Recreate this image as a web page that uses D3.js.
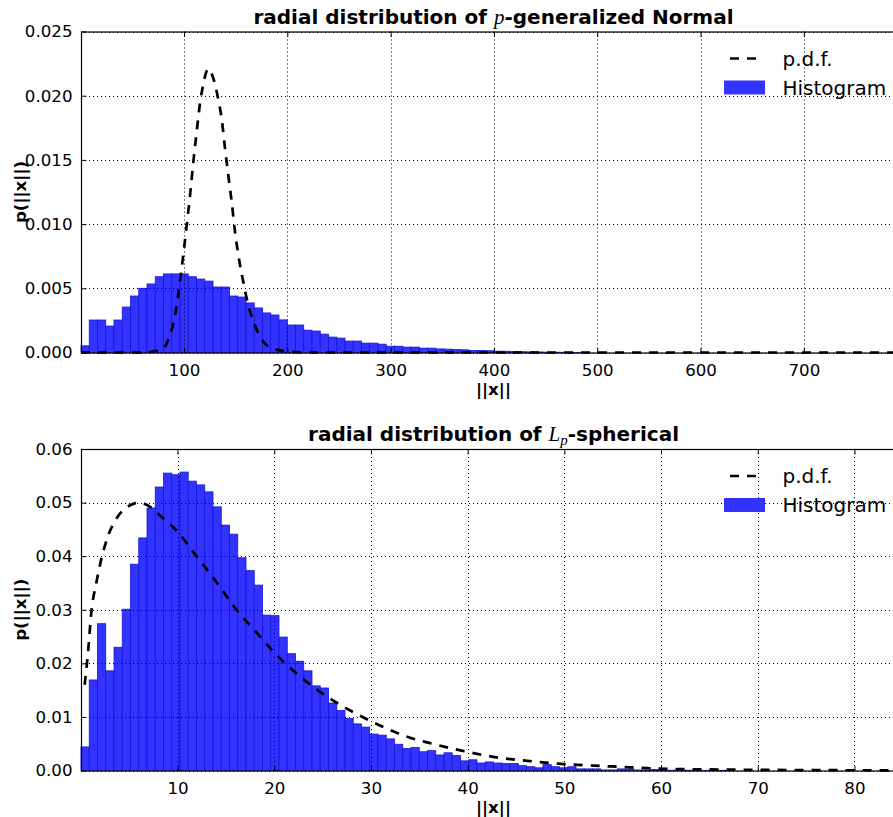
<!DOCTYPE html>
<html><head><meta charset="utf-8">
<script src="https://cdn.jsdelivr.net/npm/d3@7"></script>
<style>
body{margin:0;background:#fff}
svg{display:block}
text{font-family:"DejaVu Sans",sans-serif;fill:#000}
</style>
</head><body>
<svg id="c" width="893" height="817"></svg>
<script>
// ---------- data: top panel (p-generalized Normal) ----------
const topHistRange = [0.3, 798.9];
const topHist = [0.00052,0.00253,0.00253,0.00206,0.00253,0.00354,0.00440,0.00500,0.00534,0.00590,
0.00612,0.00612,0.00612,0.00590,0.00572,0.00556,0.00510,0.00510,0.00440,0.00432,
0.00386,0.00347,0.00308,0.00292,0.00254,0.00214,0.00214,0.00174,0.00167,0.00143,
0.00120,0.00112,0.00089,0.00089,0.00073,0.00073,0.00065,0.00049,0.00049,0.00042,
0.00042,0.00034,0.00034,0.00028,0.00026,0.00023,0.00021,0.00016,0.00016,0.00014,
0.00010,0.00010,0.00007,0.00006,0.00005,0.00004,0.00003,0.00002,0.00002,0.00001,
0.00001,0,0,0,0,0,0,0,0,0, 0,0,0,0,0,0,0,0,0,0, 0,0,0,0,0,0,0,0,0,0, 0,0,0,0,0,0,0,0,0,0];
const topPdfX = [0.3,40,65,70.3,78.4,84.8,91.3,96.1,99.3,102.6,105.8,109,112.3,115.5,118.7,121,123.5,126.8,130,133.2,136.5,139.7,142.9,146.2,149.4,152.6,157.4,162.2,168.7,176.8,186.4,199.4,220,798.9];
const topPdfY = [0,0,0,0.0001,0.0002,0.001,0.0029,0.0055,0.0076,0.0099,0.0122,0.0148,0.0172,0.0194,0.0209,0.0217,0.0221,0.0217,0.0209,0.0197,0.0182,0.0159,0.0138,0.0117,0.0094,0.0076,0.0055,0.0037,0.0021,0.00085,0.0003,0.0001,0,0];
const topXTicks = [100,200,300,400,500,600,700];
const topYTicks = [0,0.005,0.010,0.015,0.020,0.025];
const topYMax = 0.025;

// ---------- data: bottom panel (Lp-spherical) ----------
const botHistRange = [0.02, 85.33];
const botHist = [0.0044,0.0169,0.0274,0.0186,0.0230,0.0301,0.0385,0.0434,0.0490,0.0529,
0.0555,0.0552,0.0557,0.0540,0.0533,0.0520,0.0492,0.0458,0.0441,0.0397,
0.0373,0.0346,0.0290,0.0289,0.0249,0.0218,0.0204,0.0186,0.0158,0.0154,
0.0126,0.0112,0.0097,0.0087,0.0081,0.0068,0.0066,0.0059,0.0049,0.0041,
0.0043,0.0035,0.0037,0.0029,0.0033,0.0028,0.0018,0.0020,0.0014,0.0016,
0.0014,0.0013,0.0013,0.0009,0.0007,0.0005,0.0011,0.0007,0.0005,0.0007,
0.0003,0.0003,0.0003,0.0001,0.0001,0.0003,0.0003,0.0001,0.0001,0.0002,
0.0001,0.00005,0.0001,0.00005,0.00005,0.00003,0.00005,0.00003,0.00003,0,
0,0,0,0,0,0,0,0,0,0, 0,0,0,0,0,0,0,0,0,0];
const botPdfX = [0.4,0.74,1.08,1.6,2.1,2.8,3.83,5.2,5.9,7.1,8.3,10,11.7,14.1,16.0,18.2,19.8,23.6,26.7,29.9,33.9,35.9,39.4,42.8,46.2,49.6,53.1,56.8,58.9,65,72,85.33];
const botPdfY = [0.016,0.0219,0.0294,0.035,0.0393,0.0437,0.0474,0.0496,0.0500,0.0493,0.0474,0.0446,0.0406,0.035,0.0302,0.0257,0.0224,0.0162,0.0124,0.0093,0.0062,0.0052,0.0037,0.0025,0.0018,0.00125,0.0009,0.0006,0.0004,0.0002,0.0001,0.00003];
const botXTicks = [10,20,30,40,50,60,70,80];
const botYTicks = [0,0.01,0.02,0.03,0.04,0.05,0.06];
const botYMax = 0.06;

const legendLabels = ["p.d.f.","Histogram"];
const xLabel = "||x||";
const yLabel = "p(||x||)";

// ---------- drawing ----------
const svg = d3.select("#c");
const BAR_FILL = "#3333ff", BAR_EDGE = "#1414d8";

function panel(cfg){
  const {left,right,top,bottom} = cfg.box;
  const g = svg.append("g");
  const x = d3.scaleLinear().domain(cfg.range).range([left,right]);
  const y = d3.scaleLinear().domain([0,cfg.yMax]).range([bottom,top]);
  const n = cfg.hist.length;
  const bw = (cfg.range[1]-cfg.range[0])/n;

  // bars
  g.append("g").selectAll("rect").data(cfg.hist).join("rect")
    .attr("x",(d,i)=>x(cfg.range[0]+i*bw))
    .attr("width",(d,i)=>x(cfg.range[0]+(i+1)*bw)-x(cfg.range[0]+i*bw))
    .attr("y",d=>y(d))
    .attr("height",d=>y(0)-y(d))
    .attr("fill",BAR_FILL).attr("stroke",BAR_EDGE).attr("stroke-width",0.8);

  // grid (drawn above bars)
  const grid = g.append("g").attr("stroke","#000").attr("stroke-width",1).attr("stroke-dasharray","1,3");
  cfg.xTicks.forEach(t=>{
    const px = Math.round(x(t))+0.5;
    grid.append("line").attr("x1",px).attr("x2",px).attr("y1",top).attr("y2",bottom);
  });
  cfg.yTicks.forEach(t=>{
    const py = Math.round(y(t))+0.5;
    grid.append("line").attr("x1",left).attr("x2",right).attr("y1",py).attr("y2",py);
  });

  // pdf curve
  const pts = cfg.pdfX.map((v,i)=>[v,cfg.pdfY[i]]);
  g.append("path").datum(pts)
    .attr("d",d3.line().x(d=>x(d[0])).y(d=>y(d[1])).curve(d3.curveMonotoneX))
    .attr("fill","none").attr("stroke","#000").attr("stroke-width",2.7)
    .attr("stroke-dasharray","9,8");

  // spines
  g.append("rect").attr("x",left+0.5).attr("y",top+0.5).attr("width",right-left).attr("height",bottom-top)
    .attr("fill","none").attr("stroke","#000").attr("stroke-width",1.2);

  // axes with inward ticks
  const fmtY = cfg.yFmt;
  const xAxis = g.append("g").attr("transform",`translate(0,${bottom+0.5})`)
    .call(d3.axisBottom(x).tickValues(cfg.xTicks).tickSize(-5).tickPadding(11).tickFormat(d3.format("d")));
  const xAxisTop = g.append("g").attr("transform",`translate(0,${top+0.5})`)
    .call(d3.axisTop(x).tickValues(cfg.xTicks).tickSize(-5).tickFormat(""));
  const yAxis = g.append("g").attr("transform",`translate(${left+0.5},0)`)
    .call(d3.axisLeft(y).tickValues(cfg.yTicks).tickSize(-5).tickPadding(9).tickFormat(fmtY));
  [xAxis,xAxisTop,yAxis].forEach(a=>{
    a.select(".domain").remove();
    a.selectAll(".tick line").attr("stroke","#000").attr("stroke-width",1);
    a.selectAll("text").attr("font-size","16.67px").attr("font-family","DejaVu Sans").attr("fill","#000");
  });

  // axis labels
  g.append("text").attr("x",(left+right)/2).attr("y",bottom+42)
    .attr("text-anchor","middle").attr("font-weight","bold").attr("font-size","16.67px").text(xLabel);
  g.append("text").attr("transform",`translate(26,${(top+bottom)/2}) rotate(-90)`)
    .attr("text-anchor","middle").attr("font-weight","bold").attr("font-size","16.67px").text(yLabel);

  // title
  const t = g.append("text").attr("x",(left+right)/2).attr("y",top-8)
    .attr("text-anchor","middle").attr("font-weight","bold").attr("font-size","20px");
  cfg.title(t);

  // legend
  const ly1 = top+27, ly2 = top+56;
  g.append("line").attr("x1",730).attr("x2",757).attr("y1",ly1).attr("y2",ly1)
    .attr("stroke","#000").attr("stroke-width",2.7).attr("stroke-dasharray","9,8");
  g.append("text").attr("x",782.5).attr("y",ly1+7).attr("font-size","20px").text(legendLabels[0]);
  g.append("rect").attr("x",724).attr("y",ly2-7).attr("width",41).attr("height",14).attr("fill",BAR_FILL);
  g.append("text").attr("x",782.5).attr("y",ly2+7).attr("font-size","20px").text(legendLabels[1]);
}

panel({
  box:{left:81,right:906,top:31.5,bottom:352.5},
  range:topHistRange, hist:topHist, pdfX:topPdfX, pdfY:topPdfY,
  xTicks:topXTicks, yTicks:topYTicks, yMax:topYMax, yFmt:d3.format(".3f"),
  title:t=>{
    t.append("tspan").text("radial distribution of ");
    t.append("tspan").attr("font-family","Liberation Serif").attr("font-style","italic").attr("font-weight","normal").attr("font-size","21px").text("p");
    t.append("tspan").text("-generalized Normal");
  }
});
panel({
  box:{left:81,right:906,top:449,bottom:770.5},
  range:botHistRange, hist:botHist, pdfX:botPdfX, pdfY:botPdfY,
  xTicks:botXTicks, yTicks:botYTicks, yMax:botYMax, yFmt:d3.format(".2f"),
  title:t=>{
    t.append("tspan").text("radial distribution of ");
    t.append("tspan").attr("font-family","Liberation Serif").attr("font-style","italic").attr("font-weight","normal").attr("font-size","21px").text("L");
    t.append("tspan").attr("font-family","Liberation Serif").attr("font-style","italic").attr("font-weight","normal").attr("font-size","15px").attr("dy",4).text("p");
    t.append("tspan").attr("dy",-4).text("-spherical");
  }
});
</script>
</body></html>
